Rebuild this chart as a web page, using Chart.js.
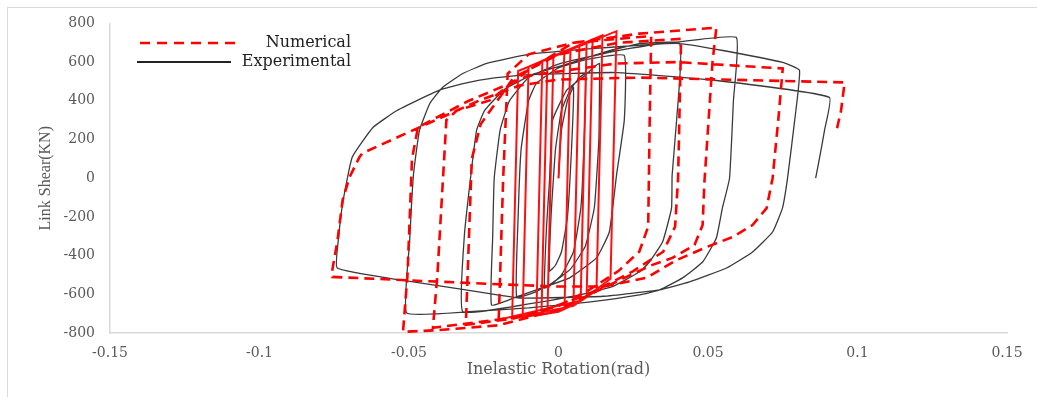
<!DOCTYPE html>
<html>
<head>
<meta charset="utf-8">
<script src="https://cdn.jsdelivr.net/npm/chart.js@4.4.1/dist/chart.umd.min.js"></script>
<style>
  html, body { margin: 0; padding: 0; background: #fff; }
  #wrap { width: 1037px; height: 397px; }
</style>
</head>
<body>
<div id="wrap"><canvas id="chart-hysteresis" width="1037" height="397"></canvas></div>
<script>
// tick labels
const xTicks = [-0.15, -0.1, -0.05, 0, 0.05, 0.1, 0.15];
const yTicks = [-800, -600, -400, -200, 0, 200, 400, 600, 800];

// Experimental (rotation rad, shear kN), cycle by cycle
const experimental = [
  [0, 0], [0.001, 250], [0.003, 400], [0.005, 470],
  [0.0045, 200], [0.003, -200], [0.001, -380], [-0.001, -450], [-0.003, -480],
  [-0.0025, -200], [-0.001, 150], [0.001, 350], [0.004, 460], [0.007, 520], [0.009, 540],
  [0.0087, 250], [0.0075, -150], [0.005, -380], [0.001, -500], [-0.0025, -550], [-0.0047, -567],
  [-0.004, -250], [-0.003, -10], [-0.002, 299], [0.0027, 454], [0.008, 520], [0.0127, 585], [0.0137, 593],
  [0.0135, 200], [0.012, -150], [0.009, -350], [0.004, -470], [-0.002, -540], [-0.008, -590], [-0.014, -613],
  [-0.0135, -200], [-0.0125, 150], [-0.010, 400], [-0.0074, 490], [0.0, 570], [0.01, 615], [0.022, 634],
  [0.022, 300], [0.0194, 15], [0.017, -278], [0.0127, -412], [0.0037, -515], [-0.0074, -577], [-0.015, -619], [-0.0224, -655],
  [-0.022, -300], [-0.0215, 0], [-0.0195, 250], [-0.0164, 400], [-0.01, 520], [0.0, 590], [0.02, 660], [0.0405, 696],
  [0.0395, 300], [0.038, 15], [0.0378, -155], [0.0348, -330], [0.0304, -433], [0.027, -485], [0.018, -560], [0.005, -610], [-0.01, -650], [-0.032, -690],
  [-0.0315, -300], [-0.0295, -10], [-0.0274, 247], [-0.0247, 350], [-0.018, 460], [-0.008, 540], [0.005, 600], [0.015, 650], [0.027, 696], [0.0405, 705], [0.0595, 727],
  [0.0585, 400], [0.0572, 0], [0.0548, -155], [0.0528, -309], [0.0482, -433], [0.0415, -515], [0.0338, -577], [0.0271, -603], [0.01, -640], [-0.01, -670], [-0.03, -690], [-0.0508, -696],
  [-0.0498, -330], [-0.0485, 20], [-0.0465, 247], [-0.043, 387], [-0.0388, 469], [-0.032, 541], [-0.024, 593], [-0.01, 640], [0.01, 668], [0.03, 690], [0.0405, 696], [0.055, 660], [0.075, 598], [0.0806, 557],
  [0.079, 300], [0.0766, 0], [0.0749, -155], [0.0716, -278], [0.0649, -381], [0.0562, -464], [0.0438, -536], [0.0338, -577], [0.015, -610], [-0.013, -619], [-0.031, -577], [-0.053, -526], [-0.074, -464],
  [-0.0735, -300], [-0.072, -113], [-0.069, 108], [-0.062, 263], [-0.054, 350], [-0.040, 454], [-0.030, 495], [-0.023, 515], [-0.01, 535], [0.0194, 546], [0.0528, 505], [0.0906, 418],
  [0.089, 250], [0.0875, 120], [0.086, 0]
];

// Numerical, small cycles (dense red block in the middle)
const numericalInner = [
  [0, 0], [0.002, 655], [0.004, 668],
  [0.002, -675], [-0.0037, -700],
  [-0.0017, 631], [0.007, 688],
  [0.005, -655], [0, -690], [-0.0057, -705],
  [-0.0037, 618], [0.0094, 704],
  [0.0074, -635], [0, -690], [-0.0074, -708],
  [-0.0054, 607], [0.0114, 717],
  [0.0094, -615], [0, -690], [-0.012, -718],
  [-0.010, 577], [0.0147, 739],
  [0.0127, -580], [0.005, -660], [-0.0155, -724],
  [-0.0135, 554], [0.0194, 760],
  [0.0174, -520], [0.008, -630], [-0.02, -732]
];

// Numerical, large cycles (dashed)
const numericalOuter = [
  [-0.02, -732], [-0.0185, 0], [-0.017, 540], [-0.01, 640], [0.005, 700], [0.031, 735],
  [0.0305, 300], [0.030, -250], [0.027, -380], [0.02, -480], [0.01, -580], [0, -660], [-0.015, -725], [-0.031, -758],
  [-0.029, 100], [-0.026, 280], [-0.015, 520], [0, 640], [0.02, 700], [0.041, 720],
  [0.040, 0], [0.039, -250], [0.035, -380], [0.025, -480], [0.01, -600], [-0.01, -710], [-0.042, -773],
  [-0.0405, -500], [-0.0375, 300], [-0.034, 350], [-0.023, 402], [-0.01, 560], [0.005, 700], [0.027, 747], [0.0528, 778],
  [0.0515, 600], [0.0488, -20], [0.0482, -242], [0.0455, -345], [0.0381, -412], [0.0314, -448], [0.02, -530], [0, -680], [-0.02, -760], [-0.04, -785], [-0.052, -794],
  [-0.0505, -500], [-0.049, 100], [-0.047, 263], [-0.03, 400], [-0.01, 530], [0.0194, 593], [0.04, 600], [0.075, 567],
  [0.0735, 300], [0.0716, 0], [0.0696, -155], [0.0649, -242], [0.0582, -304], [0.0495, -356], [0.0395, -423], [0.0294, -515], [0.015, -560], [0, -560], [-0.02, -548], [-0.05, -528], [-0.0756, -510],
  [-0.0756, -470], [-0.0739, -320], [-0.0722, -113], [-0.0699, 5], [-0.0666, 108], [-0.0656, 129], [-0.0465, 263], [-0.0264, 402], [-0.013, 479], [0.0, 510], [0.027, 520], [0.0957, 495],
  [0.0945, 350], [0.093, 247]
];

const toXY = pts => pts.map(p => ({ x: p[0], y: p[1] }));

Chart.defaults.font.family = "'DejaVu Serif', serif";
Chart.defaults.color = '#595959';

// frame + legend drawn inside the plot, like the original figure
const frameLegend = {
  id: 'frameLegend',
  beforeDraw(chart) {
    const ctx = chart.ctx;
    ctx.save();
    ctx.fillStyle = '#fff';
    ctx.fillRect(0, 0, chart.width, chart.height);
    ctx.strokeStyle = '#d9d9d9';
    ctx.lineWidth = 1;
    ctx.strokeRect(7.5, 7.5, chart.width + 10, chart.height + 10);
    ctx.restore();
  },
  afterDraw(chart) {
    const ctx = chart.ctx;
    ctx.save();
    ctx.lineWidth = 2.5;
    ctx.strokeStyle = '#ff0000';
    ctx.setLineDash([10, 7]);
    ctx.beginPath(); ctx.moveTo(140, 43); ctx.lineTo(240, 43); ctx.stroke();
    ctx.setLineDash([]);
    ctx.lineWidth = 2;
    ctx.strokeStyle = '#222';
    ctx.beginPath(); ctx.moveTo(137, 62); ctx.lineTo(231, 62); ctx.stroke();
    ctx.fillStyle = '#222';
    ctx.font = "16px 'DejaVu Serif'";
    ctx.textBaseline = 'middle';
    ctx.textAlign = 'right';
    ctx.fillText('Numerical', 351, 43);
    ctx.fillText('Experimental', 351, 62);
    ctx.restore();
  }
};

new Chart(document.getElementById('chart-hysteresis'), {
  type: 'scatter',
  data: {
    datasets: [
      {
        label: 'Numerical',
        data: toXY(numericalOuter),
        showLine: true,
        borderColor: '#ff0000',
        borderWidth: 2.6,
        borderDash: [10, 6],
        pointRadius: 0,
        tension: 0
      },
      {
        label: 'Numerical (small cycles)',
        data: toXY(numericalInner),
        showLine: true,
        borderColor: '#ff1010',
        borderWidth: 2,
        pointRadius: 0,
        tension: 0
      },
      {
        label: 'Experimental',
        data: toXY(experimental),
        showLine: true,
        borderColor: '#3a3a3a',
        borderWidth: 1.3,
        pointRadius: 0,
        tension: 0.12
      }
    ]
  },
  options: {
    responsive: false,
    animation: false,
    layout: { padding: { left: 0, right: 30, top: 23, bottom: 0 } },
    plugins: { legend: { display: false }, tooltip: { enabled: false } },
    scales: {
      x: {
        type: 'linear',
        min: xTicks[0],
        max: xTicks[xTicks.length - 1],
        afterBuildTicks: s => { s.ticks = xTicks.map(v => ({ value: v })); },
        afterFit: s => { s.height = 64; },
        grid: { display: false, drawTicks: false },
        border: { display: true, color: '#d9d9d9', width: 1.5 },
        ticks: {
          padding: 12,
          font: { size: 14 },
          color: '#595959',
          callback: v => String(Number(v.toFixed(2)))
        },
        title: {
          display: true,
          text: 'Inelastic Rotation(rad)',
          font: { size: 16 },
          color: '#595959',
          padding: { top: 0, bottom: 18 }
        }
      },
      y: {
        type: 'linear',
        min: yTicks[0],
        max: yTicks[yTicks.length - 1],
        afterBuildTicks: s => { s.ticks = yTicks.map(v => ({ value: v })); },
        afterFit: s => { s.width = 110; },
        grid: { display: false, drawTicks: false },
        border: { display: true, color: '#d9d9d9', width: 1.5 },
        ticks: {
          padding: 15,
          font: { size: 14 },
          color: '#595959'
        },
        title: {
          display: true,
          text: 'Link Shear(KN)',
          font: { size: 16, family: "'Liberation Serif', serif" },
          color: '#595959',
          padding: { top: 36, bottom: 0 }
        }
      }
    }
  },
  plugins: [frameLegend]
});
</script>
</body>
</html>
